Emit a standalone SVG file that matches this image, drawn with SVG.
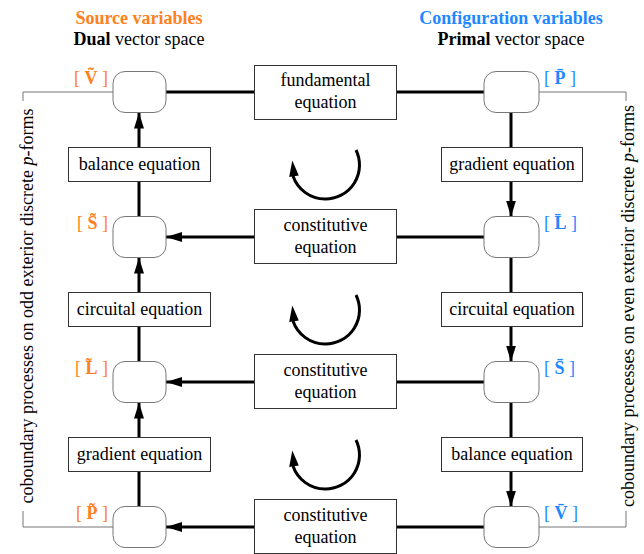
<svg xmlns="http://www.w3.org/2000/svg" width="644" height="554" viewBox="0 0 644 554" font-family="'Liberation Serif', 'Times New Roman', Times, 'DejaVu Serif', serif">
<style>
text{font-family:'Liberation Serif','Times New Roman',Times,'DejaVu Serif',serif;font-size:18px;fill:#000}
.or{fill:#FF8020}.bl{fill:#1E88FF}
.b{font-weight:bold}
.node{fill:#fff;stroke:#777;stroke-width:1}
.box{fill:#fff;stroke:#333;stroke-width:1}
.thick{fill:none;stroke:#000;stroke-width:3}
.thin{fill:none;stroke:#777;stroke-width:1}
.mid{text-anchor:middle}
</style>
<defs>
<marker id="ah" markerUnits="userSpaceOnUse" markerWidth="16" markerHeight="10" refX="16" refY="5" orient="auto" viewBox="0 0 16 10"><path d="M0,0 L16,5 L0,10 z" fill="#000"/></marker>
<path id="cyc" d="M356,150 A34,34 0 0 1 325,199 A34,34 0 0 1 293,176"/>
<path id="cyh" d="M292.3,160.5 L298.8,175.5 L289.2,177 z"/>
</defs>
<g id="headers">
<text class="or b mid" x="139" y="24">Source variables</text>
<text class="mid" x="139" y="45"><tspan class="b">Dual</tspan> vector space</text>
<text class="bl b mid" x="511" y="24">Configuration variables</text>
<text class="mid" x="511" y="45"><tspan class="b">Primal</tspan> vector space</text>
</g>
<g id="connectors">
<path class="thin" d="M113,92 H23 V101"/>
<path class="thin" d="M23,511 V527 H113"/>
<path class="thin" d="M539,92 H626 V101"/>
<path class="thin" d="M626,511 V527 H539"/>
<path class="thick" d="M166,92 H254"/>
<path class="thick" d="M396,92 H484"/>
<path class="thick" d="M484,237 H396"/>
<path class="thick" d="M254,237 H166" marker-end="url(#ah)"/>
<path class="thick" d="M484,382 H396"/>
<path class="thick" d="M254,382 H166" marker-end="url(#ah)"/>
<path class="thick" d="M484,527 H396"/>
<path class="thick" d="M254,527 H166" marker-end="url(#ah)"/>
<path class="thick" d="M139,147.5 V112.5" marker-end="url(#ah)"/>
<path class="thick" d="M139,216.5 V181.5"/>
<path class="thick" d="M139,292.5 V257.5" marker-end="url(#ah)"/>
<path class="thick" d="M139,361.5 V326.5"/>
<path class="thick" d="M139,437.5 V402.5" marker-end="url(#ah)"/>
<path class="thick" d="M139,506.5 V471.5"/>
<path class="thick" d="M511,112.5 V147.5"/>
<path class="thick" d="M511,181.5 V216.5" marker-end="url(#ah)"/>
<path class="thick" d="M511,257.5 V292.5"/>
<path class="thick" d="M511,326.5 V361.5" marker-end="url(#ah)"/>
<path class="thick" d="M511,402.5 V437.5"/>
<path class="thick" d="M511,471.5 V506.5" marker-end="url(#ah)"/>
<use href="#cyc" class="thick"/><use href="#cyh"/>
<use href="#cyc" class="thick" y="145"/><use href="#cyh" y="145"/>
<use href="#cyc" class="thick" y="290"/><use href="#cyh" y="290"/>
</g>
<g id="side-labels">
<text x="33" y="306" class="mid" transform="rotate(-90 33 306)">coboundary processes on odd exterior discrete <tspan font-style="italic">p</tspan>-forms</text>
<text x="634" y="306" class="mid" transform="rotate(-90 634 306)">coboundary processes on even exterior discrete <tspan font-style="italic">p</tspan>-forms</text>
</g>
<g id="node-V-dual"><rect class="node" x="113" y="71.5" width="53" height="41" rx="12"/><text class="or" x="108" y="84" text-anchor="end">[ <tspan class="b">V&#x303;</tspan> ]</text></g>
<g id="node-S-dual"><rect class="node" x="113" y="216.5" width="53" height="41" rx="12"/><text class="or" x="108" y="229" text-anchor="end">[ <tspan class="b">S&#x303;</tspan> ]</text></g>
<g id="node-L-dual"><rect class="node" x="113" y="361.5" width="53" height="41" rx="12"/><text class="or" x="108" y="374" text-anchor="end">[ <tspan class="b">L&#x303;</tspan> ]</text></g>
<g id="node-P-dual"><rect class="node" x="113" y="506.5" width="53" height="41" rx="12"/><text class="or" x="108" y="519" text-anchor="end">[ <tspan class="b">P&#x303;</tspan> ]</text></g>
<g id="node-P-primal"><rect class="node" x="484" y="71.5" width="55" height="41" rx="12"/><text class="bl" x="544" y="84">[ <tspan class="b">P&#x304;</tspan> ]</text></g>
<g id="node-L-primal"><rect class="node" x="484" y="216.5" width="55" height="41" rx="12"/><text class="bl" x="544" y="229">[ <tspan class="b">L&#x304;</tspan> ]</text></g>
<g id="node-S-primal"><rect class="node" x="484" y="361.5" width="55" height="41" rx="12"/><text class="bl" x="544" y="374">[ <tspan class="b">S&#x304;</tspan> ]</text></g>
<g id="node-V-primal"><rect class="node" x="484" y="506.5" width="55" height="41" rx="12"/><text class="bl" x="544" y="519">[ <tspan class="b">V&#x304;</tspan> ]</text></g>
<g id="fundamental"><rect class="box" x="254.5" y="65.5" width="142" height="54"/><text class="mid" x="325.5" y="86">fundamental</text><text class="mid" x="325.5" y="108">equation</text></g>
<g id="constitutive-1"><rect class="box" x="254.5" y="209.5" width="142" height="54"/><text class="mid" x="325.5" y="231">constitutive</text><text class="mid" x="325.5" y="253">equation</text></g>
<g id="constitutive-2"><rect class="box" x="254.5" y="354.5" width="142" height="54"/><text class="mid" x="325.5" y="376">constitutive</text><text class="mid" x="325.5" y="398">equation</text></g>
<g id="constitutive-3"><rect class="box" x="254.5" y="499.5" width="142" height="54"/><text class="mid" x="325.5" y="521">constitutive</text><text class="mid" x="325.5" y="543">equation</text></g>
<g id="balance-dual"><rect class="box" x="68.5" y="147.5" width="142" height="34"/><text class="mid" x="139.5" y="170">balance equation</text></g>
<g id="circuital-dual"><rect class="box" x="68.5" y="292.5" width="142" height="34"/><text class="mid" x="139.5" y="315">circuital equation</text></g>
<g id="gradient-dual"><rect class="box" x="68.5" y="437.5" width="142" height="34"/><text class="mid" x="139.5" y="460">gradient equation</text></g>
<g id="gradient-primal"><rect class="box" x="441.5" y="147.5" width="141" height="34"/><text class="mid" x="512" y="170">gradient equation</text></g>
<g id="circuital-primal"><rect class="box" x="441.5" y="292.5" width="141" height="34"/><text class="mid" x="512" y="315">circuital equation</text></g>
<g id="balance-primal"><rect class="box" x="441.5" y="437.5" width="141" height="34"/><text class="mid" x="512" y="460">balance equation</text></g>
</svg>
